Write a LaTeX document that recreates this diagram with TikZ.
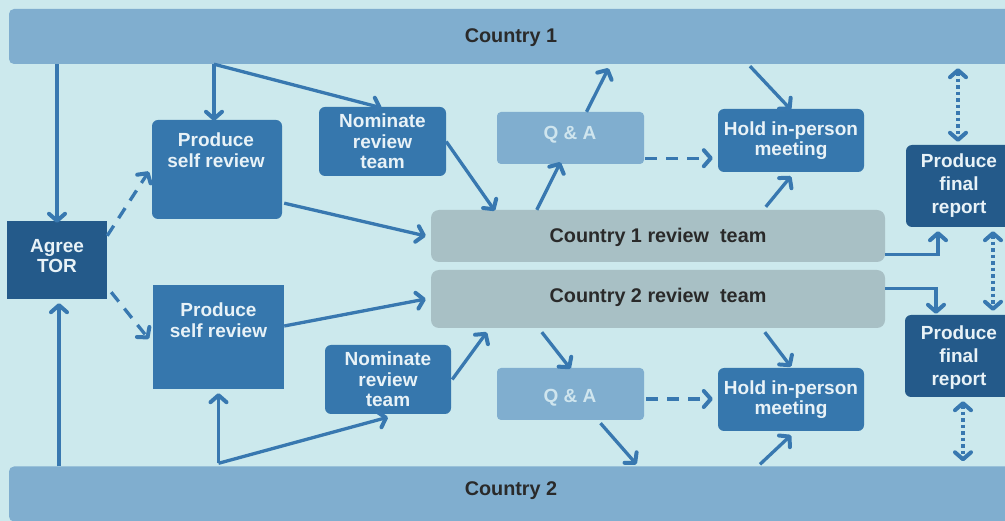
\documentclass[tikz,border=0pt]{standalone}
\usepackage{fontspec}
\setmainfont{Liberation Sans}
\usetikzlibrary{arrows.meta,calc}
\definecolor{bgc}{HTML}{CCE9ED}
\definecolor{barc}{HTML}{80AECF}
\definecolor{boxc}{HTML}{3677AD}
\definecolor{darkc}{HTML}{245A8A}
\definecolor{teamc}{HTML}{A8C0C5}
\definecolor{arrc}{HTML}{3878B0}
\definecolor{lighttext}{HTML}{E8F2F7}
\definecolor{qatext}{HTML}{CFE5EE}
\definecolor{darktext}{HTML}{2A2A2A}
\begin{document}
\begin{tikzpicture}[x=1pt,y=-1pt,
  base/.style={inner sep=0pt, align=center, font=\fontsize{19}{20.5}\selectfont\bfseries},
  big/.style={font=\fontsize{19.8}{22}\selectfont\bfseries},
  bar/.style={base, fill=barc, rounded corners=5pt, text=darktext, minimum height=55pt},
  stepbox/.style={base, fill=boxc, rounded corners=6pt, text=lighttext},
  sqbox/.style={base, fill=boxc, text=lighttext},
  darkbox/.style={base, fill=darkc, rounded corners=6pt, text=lighttext},
  frtext/.style={base, text=lighttext, font=\fontsize{19}{23}\selectfont\bfseries},
  torbox/.style={base, fill=darkc, text=lighttext},
  qabox/.style={base, fill=barc, rounded corners=4pt, text=qatext},
  teambox/.style={base, fill=teamc, rounded corners=8pt, text=darktext},
  tip/.tip={Straight Barb[length=7pt,width=16pt,line width=4pt,round]},
  arr/.style={draw=arrc, line width=3.3pt, -tip},
  dasharr/.style={arr, dash pattern=on 12pt off 9pt},
  dotarr/.style={draw=arrc, line width=3.8pt, dash pattern=on 3.5pt off 3pt, tip-tip}
]
\useasboundingbox (0,0) rectangle (1005,521);
\fill[bgc] (0,0) rectangle (1005,521);

% bars
\node[bar, minimum width=1010pt] (c1) at (514,36.5) {};
\node[darktext, base, big] (c1t) at (511,38) {Country 1};
\node[bar, minimum width=1010pt] (c2) at (514,494) {};
\node[darktext, base, big] (c2t) at (511,491) {Country 2};

% left
\node[torbox, minimum width=100pt, minimum height=78pt] (tor) at (57,260) {};
\node[base, text=lighttext] (tort) at (57,256) {Agree\\TOR};

% top row
\node[stepbox, minimum width=130pt, minimum height=99pt] (psr1) at (217,169.5) {};
\node[base, text=lighttext] (psr1t) at (216,150) {Produce\\self review};
\node[stepbox, minimum width=127pt, minimum height=69pt] (nom1) at (382.5,141.5) {Nominate\\review\\team};
\node[qabox, minimum width=147pt, minimum height=52pt] (qa1) at (570.5,138) {};
\node[base, text=qatext] (qa1t) at (570,135) {Q \& A};
\node[stepbox, minimum width=146pt, minimum height=63pt] (hold1) at (791,140.5) {Hold in-person\\meeting};
\node[darkbox, minimum width=110pt, minimum height=82pt] (fr1) at (961,186) {};
\node[frtext] (fr1t) at (959,186) {Produce\\final\\report};

% teams
\node[teambox, minimum width=454pt, minimum height=52pt] (team1) at (658,236) {};
\node[base, big, text=darktext] (team1t) at (658,237) {Country 1 review\ \ team};
\node[teambox, minimum width=454pt, minimum height=58pt] (team2) at (658,299) {};
\node[base, big, text=darktext] (team2t) at (658,297) {Country 2 review\ \ team};

% bottom row
\node[sqbox, minimum width=131pt, minimum height=104pt] (psr2) at (218.5,337) {};
\node[base, text=lighttext] (psr2t) at (218.5,320) {Produce\\self review};
\node[stepbox, minimum width=126pt, minimum height=69pt] (nom2) at (388,379.5) {Nominate\\review\\team};
\node[qabox, minimum width=147pt, minimum height=52pt] (qa2) at (570.5,394) {};
\node[base, text=qatext] (qa2t) at (570,398) {Q \& A};
\node[stepbox, minimum width=146pt, minimum height=63pt] (hold2) at (791,399.5) {Hold in-person\\meeting};
\node[darkbox, minimum width=110pt, minimum height=82pt] (fr2) at (960,356) {};
\node[frtext] (fr2t) at (959,358) {Produce\\final\\report};

% ---- top arrows
\draw[arr] (c1.south -| tor) -- ([yshift=-2pt]tor.north);
\coordinate (s1) at ([xshift=-3pt]c1.south -| psr1);
\draw[arr] (s1) -- ([xshift=-3pt,yshift=-1pt]psr1.north);
\draw[arr] (s1) -- ([xshift=-1pt,yshift=-1pt]nom1.north);
\draw[dasharr] ([yshift=-15pt]tor.north east) -- ([xshift=-3pt,yshift=-2pt]psr1.west);
\draw[arr] ([xshift=2pt,yshift=16pt]psr1.south east) -- ([xshift=-5pt]team1.west);
\draw[arr] (nom1.east) -- ([xshift=64pt,yshift=-1pt]team1.north west);
\draw[arr] ([xshift=106pt]team1.north west) -- ([xshift=-10pt,yshift=2pt]qa1.south);
\draw[arr] ([xshift=16pt]qa1.north) -- ([xshift=38pt,yshift=-4pt]qa1.north |- c1.south);
\draw[dasharr] ([xshift=1pt,yshift=6pt]qa1.south east) -- ([xshift=-5pt,yshift=6pt]qa1.south east -| hold1.west);
\draw[arr] ([xshift=-41pt,yshift=-2pt]hold1.north |- c1.south) -- ([yshift=-1pt]hold1.north);
\draw[arr] ([xshift=335pt,yshift=3pt]team1.north west) -- ([yshift=-4pt]hold1.south);
\draw[dotarr] ([xshift=-3pt,yshift=-4pt]fr1.north |- c1.south) -- ([xshift=-3pt,yshift=3pt]fr1.north);
\draw[arr] ([yshift=8pt]team1.south east) -| ([xshift=-23pt,yshift=-4pt]fr1.south);
\draw[dotarr] ([xshift=32pt,yshift=-4pt]fr1.south) -- ([xshift=33pt,yshift=4pt]fr2.north);

% ---- bottom arrows
\draw[arr] ([xshift=2pt]tor.south |- c2.north) -- ([xshift=2pt,yshift=-4pt]tor.south);
\coordinate (s2) at (psr2.south |- c2.north);
\draw[arr] ([yshift=3pt]s2) -- ([yshift=-4pt]psr2.south);
\draw[arr] ([yshift=3pt]s2) -- ([yshift=-3pt]nom2.south);
\draw[dasharr] ([xshift=4pt,yshift=7pt]tor.south east) -- ([xshift=-4pt,yshift=-2pt]psr2.west);
\draw[arr] ([yshift=11pt]psr2.east) -- ([xshift=-5pt]team2.west);
\draw[arr] ([xshift=1pt]nom2.east) -- ([xshift=56pt,yshift=-4pt]team2.south west);
\draw[arr] ([xshift=111pt,yshift=-4pt]team2.south west) -- ([yshift=-1pt]qa2.north);
\draw[arr] ([xshift=30pt,yshift=-3pt]qa2.south) -- ([xshift=66pt,yshift=2pt]qa2.south |- c2.north);
\draw[dasharr] ([xshift=2pt,yshift=-5pt]qa2.east) -- ([xshift=-5pt,yshift=-5pt]qa2.east -| hold2.west);
\draw[arr] ([xshift=334pt,yshift=-4pt]team2.south west) -- ([yshift=1pt]hold2.north);
\draw[arr] ([xshift=-31pt,yshift=2pt]hold2.south |- c2.north) -- ([yshift=-4pt]hold2.south);
\draw[arr] ([yshift=-19pt]team2.north east) -| ([xshift=-24pt,yshift=1pt]fr2.north);
\draw[dotarr] ([xshift=3pt,yshift=-4pt]fr2.south) -- ([xshift=3pt,yshift=5pt]fr2.south |- c2.north);
\end{tikzpicture}
\end{document}
